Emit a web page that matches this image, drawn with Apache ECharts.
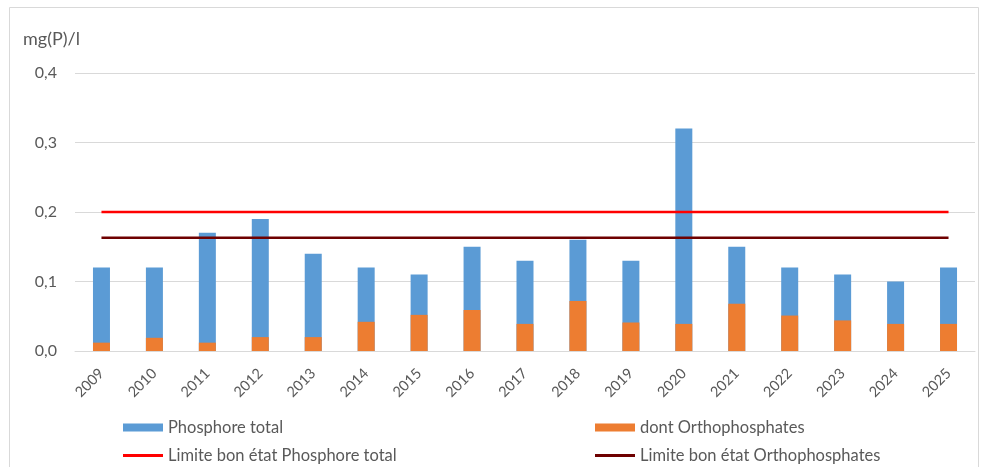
<!DOCTYPE html>
<html>
<head>
<meta charset="utf-8">
<script src="https://cdn.jsdelivr.net/npm/echarts@6/dist/echarts.min.js"></script>
<style>
html,body{margin:0;padding:0;background:#fff;}
#c{width:989px;height:467px;}
</style>
</head>
<body>
<div id="c"></div>
<script>
const years = ['2009','2010','2011','2012','2013','2014','2015','2016','2017','2018','2019','2020','2021','2022','2023','2024','2025'];
const phosphoreTotal = [0.12,0.12,0.17,0.19,0.14,0.12,0.11,0.15,0.13,0.16,0.13,0.32,0.15,0.12,0.11,0.10,0.12];
const orthophosphates = [0.012,0.019,0.012,0.02,0.02,0.042,0.052,0.059,0.039,0.072,0.041,0.039,0.068,0.051,0.044,0.039,0.039];
const limitePT = 0.2;
const limiteOrtho = 0.163;
const yTicks = [0, 0.1, 0.2, 0.3, 0.4];

const FONT = 'Lato';
const GREY = '#595959';
const chart = echarts.init(document.getElementById('c'));
const legendBase = {
  orient: 'horizontal', itemWidth: 40, itemHeight: 8, itemGap: 4,
  textStyle: {fontFamily: FONT, fontSize: 16.5, color: GREY},
  selectedMode: false
};
chart.setOption({
  animation: false,
  backgroundColor: '#fff',
  graphic: [{
    type: 'rect', shape: {x: 9.5, y: 7.5, width: 969, height: 470},
    style: {fill: 'none', stroke: '#d9d9d9', lineWidth: 1}, silent: true
  }],
  title: {
    text: 'mg(P)/l', left: 18, top: 25,
    textStyle: {fontFamily: FONT, fontSize: 18, fontWeight: 'normal', color: GREY}
  },
  grid: {left: 75, right: 14, top: 73, bottom: 116, containLabel: false},
  legend: [
    Object.assign({}, legendBase, {data: [{name: 'Phosphore total', icon: 'rect'}], left: 118, top: 414}),
    Object.assign({}, legendBase, {data: [{name: 'dont Orthophosphates', icon: 'rect'}], left: 590, top: 414}),
    Object.assign({}, legendBase, {itemHeight: 3, data: [{name: 'Limite bon état Phosphore total', icon: 'rect'}], left: 118, top: 442}),
    Object.assign({}, legendBase, {itemHeight: 3, data: [{name: 'Limite bon état Orthophosphates', icon: 'rect'}], left: 590, top: 442})
  ],
  xAxis: {
    type: 'category', data: years, boundaryGap: true,
    axisLine: {show: true, lineStyle: {color: '#d9d9d9', width: 1}},
    axisTick: {show: false},
    axisLabel: {rotate: 45, interval: 0, margin: 20, fontFamily: FONT, fontSize: 14.5, color: GREY}
  },
  yAxis: {
    type: 'value', min: 0, max: 0.4, interval: 0.1,
    axisLine: {show: false}, axisTick: {show: false},
    splitLine: {lineStyle: {color: '#d9d9d9', width: 1}},
    axisLabel: {
      margin: 18, fontFamily: FONT, fontSize: 16, color: GREY,
      formatter: v => { const t = yTicks.find(x => Math.abs(x - v) < 1e-9); return (t !== undefined ? t : v).toFixed(1).replace('.', ','); }
    }
  },
  series: [
    {
      name: 'Phosphore total', type: 'bar', data: phosphoreTotal, barWidth: 17, barGap: '-100%',
      itemStyle: {color: '#5B9BD5'}, z: 2
    },
    {
      name: 'dont Orthophosphates', type: 'bar', data: orthophosphates, barWidth: 17, barGap: '-100%',
      itemStyle: {color: '#ED7D31'}, z: 3
    },
    {
      name: 'Limite bon état Phosphore total', type: 'line', data: years.map(() => limitePT),
      symbol: 'none', lineStyle: {color: '#FF0000', width: 2.5}, itemStyle: {color: '#FF0000'}, z: 4
    },
    {
      name: 'Limite bon état Orthophosphates', type: 'line', data: years.map(() => limiteOrtho),
      symbol: 'none', lineStyle: {color: '#6E0000', width: 2.5}, itemStyle: {color: '#6E0000'}, z: 4
    }
  ]
});
</script>
</body>
</html>
